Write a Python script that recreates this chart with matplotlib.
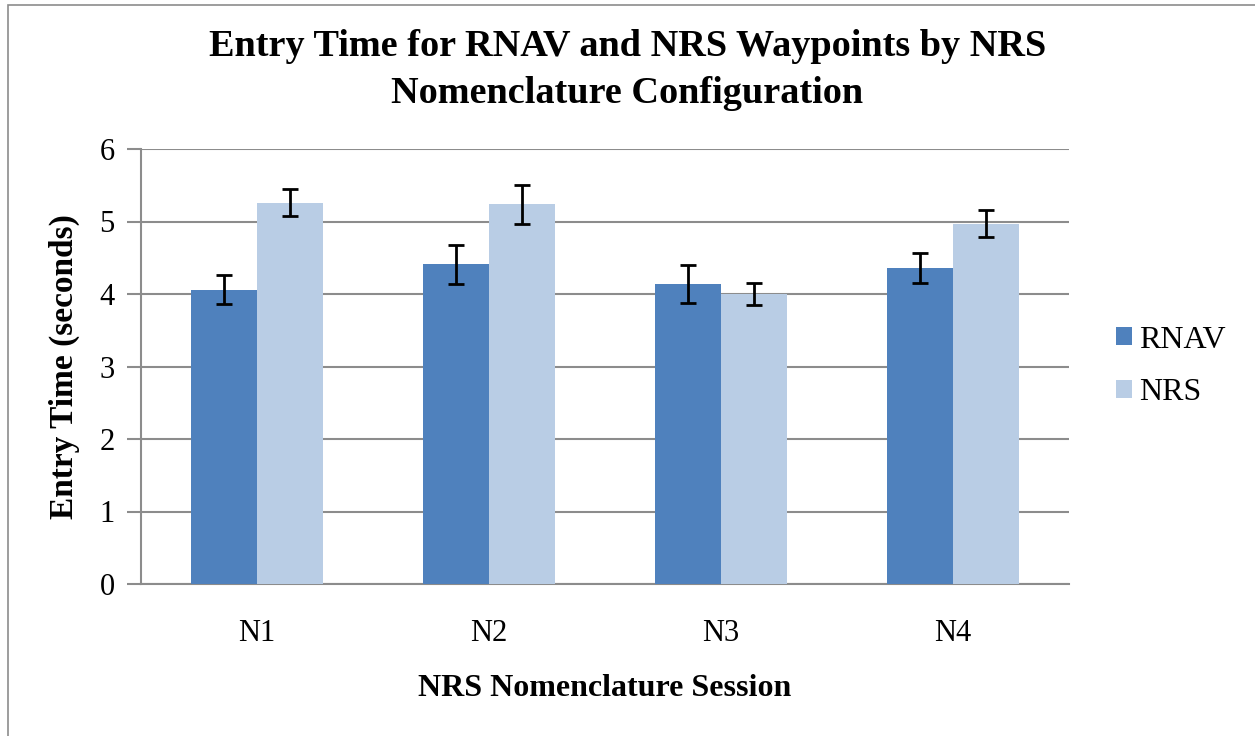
import numpy as np
import matplotlib
matplotlib.use('Agg')
import matplotlib.pyplot as plt
from matplotlib.patches import Rectangle

sessions = ['N1', 'N2', 'N3', 'N4']
rnav_time = [4.06, 4.41, 4.14, 4.36]
rnav_err = [0.20, 0.27, 0.26, 0.21]
nrs_time = [5.26, 5.24, 4.00, 4.97]
nrs_err = [0.19, 0.27, 0.15, 0.19]

plt.rcParams['font.family'] = ['Liberation Serif', 'DejaVu Serif']

W, H = 1255, 736
fig = plt.figure(figsize=(W / 100, H / 100), dpi=100)
ax = fig.add_axes([141 / W, 1 - 584 / H, (1069 - 141) / W, (584 - 149) / H])

# outer chart frame (only top and left visible in the reference)
fig.patches.append(Rectangle((8 / W, -0.1), 1.2, 1 - 5 / H + 0.1, transform=fig.transFigure,
                             fill=False, edgecolor='#8c8c8c', linewidth=1.2))

x = np.arange(len(sessions))
w = 0.285
err_kw = dict(ecolor='black', capsize=6, elinewidth=2, capthick=2)
ax.bar(x - w / 2, rnav_time, w, yerr=rnav_err, color='#4F81BD', label='RNAV',
       error_kw=err_kw, zorder=3)
ax.bar(x + w / 2, nrs_time, w, yerr=nrs_err, color='#B9CDE5', label='NRS',
       error_kw=err_kw, zorder=3)

ax.set_xlim(-0.5, 3.5)
ax.set_ylim(0, 6)
ax.set_yticks(range(7))
ax.set_xticks(x)
ax.set_xticklabels(sessions)
ax.yaxis.grid(True, color='#8c8c8c', linewidth=1.5, zorder=0)
ax.set_axisbelow(True)
for s in ['top', 'right']:
    ax.spines[s].set_visible(False)
for s in ['left', 'bottom']:
    ax.spines[s].set_color('#8c8c8c')
    ax.spines[s].set_linewidth(1.5)
ax.tick_params(axis='y', length=10, width=1.5, color='#8c8c8c', labelsize=22, pad=9)
ax.tick_params(axis='x', length=0, labelsize=22, pad=25)

ax.set_xlabel('NRS Nomenclature Session', fontsize=23, fontweight='bold', labelpad=19)
ax.set_ylabel('Entry Time (seconds)', fontsize=24, fontweight='bold', labelpad=14)
fig.text(0.5, 1 - 70 / H, 'Entry Time for RNAV and NRS Waypoints by NRS\nNomenclature Configuration',
         ha='center', va='center', fontsize=27.5, fontweight='bold', linespacing=1.45)

ax.legend(loc='center left', bbox_to_anchor=(1.02, 0.5), frameon=False, fontsize=23,
          handlelength=0.5, handleheight=0.5, handletextpad=0.22, labelspacing=0.75)

fig.savefig('out.png', dpi=100)
